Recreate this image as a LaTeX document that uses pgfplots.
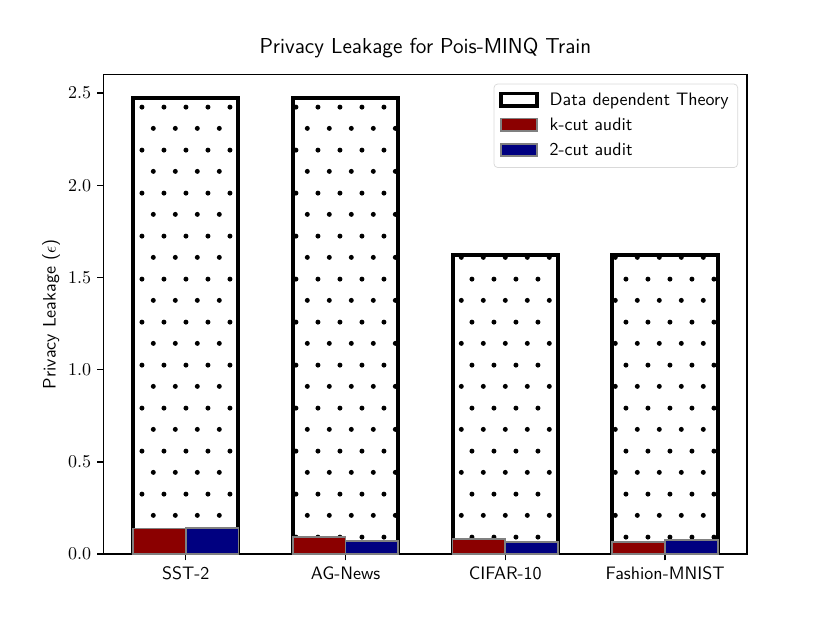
\documentclass[border=0pt]{standalone}
\usepackage{pgfplots}
\pgfplotsset{compat=1.18}
\usetikzlibrary{patterns.meta}
\definecolor{kcut}{RGB}{139,0,0}
\definecolor{twocut}{RGB}{0,0,128}
\tikzdeclarepattern{
  name=mpldots,
  type=uncolored,
  bounding box={(-2pt,6pt) and (10pt,30pt)},
  tile size={(12pt,24pt)},
  code={
    \fill (1pt,12pt) circle (1.4pt);
    \fill (7pt,24pt) circle (1.4pt);
  }
}
\begin{document}
\begin{tikzpicture}
\begin{axis}[
  width=357.12pt, height=266.112pt, scale only axis,
  xmin=-0.513, xmax=3.513, ymin=0, ymax=2.6,
  xtick={0,1,2,3},
  xticklabels={SST-2,AG-News,CIFAR-10,Fashion-MNIST},
  xticklabel style={font=\sffamily},
  ytick={0,0.5,1,1.5,2,2.5},
  yticklabel style={/pgf/number format/.cd, fixed, fixed zerofill, precision=1},
  tick align=outside,
  xtick pos=left, ytick pos=left,
  major tick length=3.5pt,
  every tick/.style={black, line width=0.8pt},
  axis line style={line width=0.8pt},
  title={\sffamily\large Privacy Leakage for Pois-MINQ Train},
  ylabel={\sffamily Privacy Leakage ($\epsilon$)},
  ylabel style={yshift=-2.5pt},
  legend style={at={(1,1)}, anchor=north east, xshift=-5pt, yshift=-5pt,
    draw=black!15, rounded corners=2pt, font=\sffamily, row sep=1.5pt,
    inner sep=3pt},
  legend cell align=left,
]
\addplot[ybar, bar width=0.66, bar shift=0pt, draw=black, line width=2.2pt,
  pattern=mpldots, pattern color=black,
  legend image code/.code={\path[draw=none, fill=none] (0pt,0pt) rectangle (25pt,1pt); \draw[sharp corners, black, line width=1.8pt, fill=white] (0pt,-3pt) rectangle (20pt,4pt);}]
  coordinates {(0,2.476) (1,2.476) (2,1.620) (3,1.620)};
\addlegendentry{Data dependent Theory}
\addplot[ybar, bar width=0.33, bar shift=0pt, draw=gray, line width=1pt, fill=kcut,
  legend image code/.code={\path[draw=none, fill=none] (0pt,0pt) rectangle (25pt,1pt); \draw[sharp corners, gray, line width=1pt, fill=kcut] (0pt,-3pt) rectangle (20pt,4pt);}]
  coordinates {(-0.165,0.139) (0.835,0.092) (1.835,0.083) (2.835,0.067)};
\addlegendentry{k-cut audit}
\addplot[ybar, bar width=0.33, bar shift=0pt, draw=gray, line width=1pt, fill=twocut,
  legend image code/.code={\path[draw=none, fill=none] (0pt,0pt) rectangle (25pt,1pt); \draw[sharp corners, gray, line width=1pt, fill=twocut] (0pt,-3pt) rectangle (20pt,4pt);}]
  coordinates {(0.165,0.143) (1.165,0.072) (2.165,0.067) (3.165,0.074)};
\addlegendentry{2-cut audit}
\end{axis}
\pgfresetboundingbox
\path (-57.6pt,-38.016pt) rectangle (403.2pt,307.584pt);
\end{tikzpicture}
\end{document}
